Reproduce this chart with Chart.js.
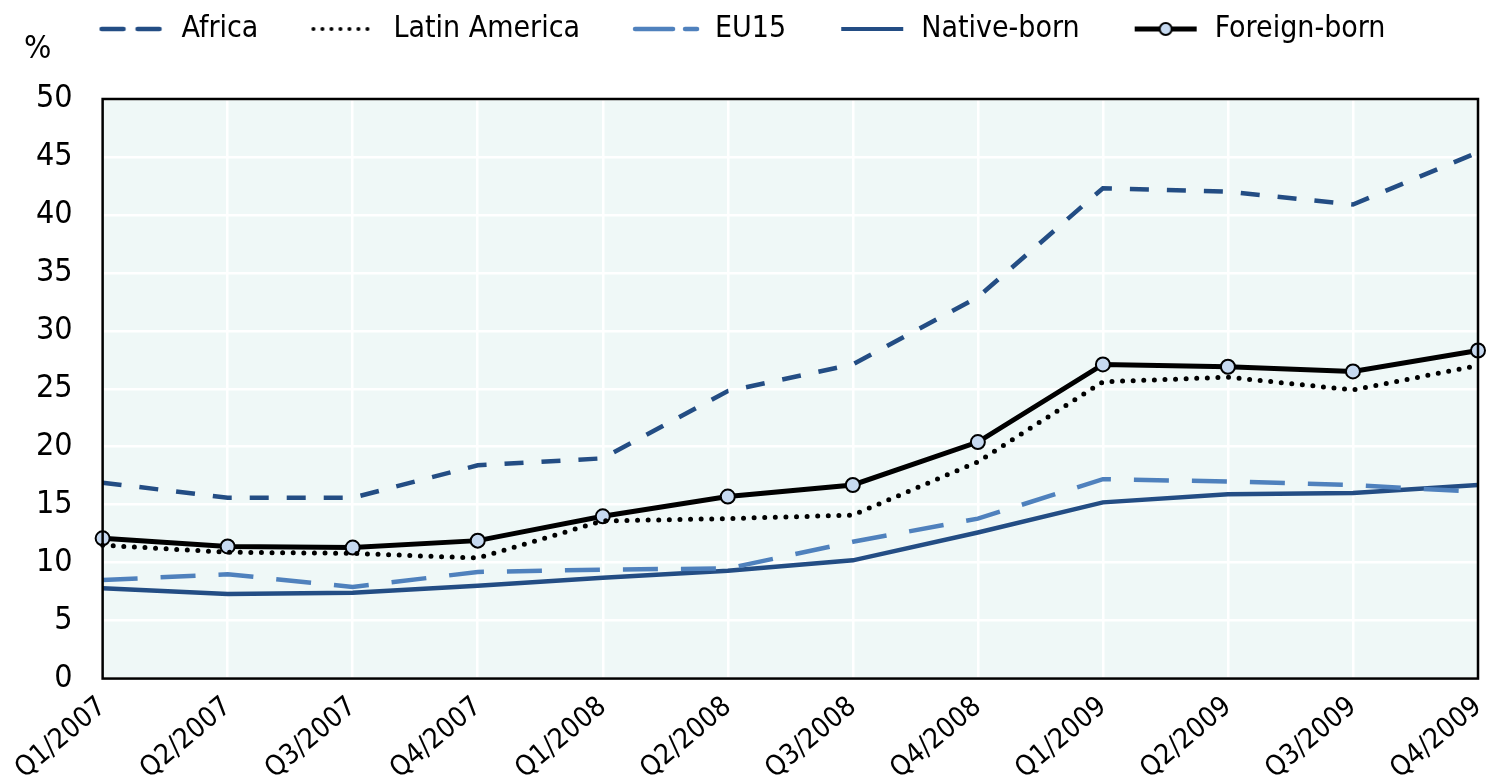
<!DOCTYPE html>
<html>
<head>
<meta charset="utf-8">
<script src="https://cdn.jsdelivr.net/npm/chart.js@4.4.1/dist/chart.umd.min.js"></script>
<style>
  html, body { margin: 0; padding: 0; background: #fff; }
  #wrap { position: relative; width: 1487px; height: 783px; }
  #unit { position: absolute; left: 24px; top: 28px; font: 32px "Liberation Sans Narrow", "DejaVu Sans Condensed", sans-serif; color: #000; }
</style>
</head>
<body>
<div id="wrap">
  <canvas id="chart" width="1487" height="783"></canvas>
  <div id="unit">%</div>
</div>
<script>
const FONT = '"Liberation Sans Narrow", "DejaVu Sans Condensed", sans-serif';

const quarters = ['Q1/2007', 'Q2/2007', 'Q3/2007', 'Q4/2007', 'Q1/2008', 'Q2/2008',
  'Q3/2008', 'Q4/2008', 'Q1/2009', 'Q2/2009', 'Q3/2009', 'Q4/2009'];
const africa = [16.9, 15.6, 15.6, 18.4, 19.0, 24.8, 27.1, 32.9, 42.3, 42.0, 40.9, 45.4];
const latinAmerica = [11.5, 10.9, 10.8, 10.4, 13.6, 13.8, 14.1, 18.7, 25.6, 26.0, 24.9, 27.0];
const eu15 = [8.5, 9.0, 7.9, 9.2, 9.4, 9.5, 11.8, 13.8, 17.2, 17.0, 16.7, 16.1];
const nativeBorn = [7.8, 7.3, 7.4, 8.0, 8.7, 9.3, 10.2, 12.6, 15.2, 15.9, 16.0, 16.7];
const foreignBorn = [12.1, 11.4, 11.3, 11.9, 14.0, 15.7, 16.7, 20.4, 27.1, 26.9, 26.5, 28.3];

// legend samples drawn on small canvases
function sample(draw) {
  const c = document.createElement('canvas');
  c.width = 68; c.height = 18;
  const g = c.getContext('2d');
  draw(g);
  return c;
}
function lineSample(color, width, dash, cap) {
  return sample(g => {
    g.strokeStyle = color; g.lineWidth = width; g.setLineDash(dash); g.lineCap = cap || 'butt';
    g.beginPath(); g.moveTo(3, 9); g.lineTo(65, 9); g.stroke();
  });
}
const legendIcons = [
  lineSample('#234d84', 4.5, [22, 14], 'round'),
  lineSample('#000', 4, [0, 9], 'round'),
  lineSample('#4f81bd', 4.5, [38, 12], 'round'),
  lineSample('#234d84', 4, []),
  sample(g => {
    g.strokeStyle = '#000'; g.lineWidth = 5;
    g.beginPath(); g.moveTo(3, 9); g.lineTo(65, 9); g.stroke();
    g.beginPath(); g.arc(34, 9, 6, 0, Math.PI * 2);
    g.fillStyle = '#c6d9f0'; g.fill(); g.lineWidth = 2; g.stroke();
  })
];

const plotFrame = {
  id: 'plotFrame',
  beforeInit(chart) {
    // extra room between legend and plot
    const fit = chart.legend.fit;
    chart.legend.fit = function () {
      fit.call(this);
      this.height += 45;
    };
  },
  beforeDraw(chart) {
    const { ctx, chartArea: a } = chart;
    ctx.save();
    ctx.fillStyle = '#eff8f7';
    ctx.fillRect(a.left, a.top, a.right - a.left, a.bottom - a.top);
    ctx.restore();
  },
  afterDatasetsDraw(chart) {
    const { ctx, chartArea: a } = chart;
    ctx.save();
    ctx.strokeStyle = '#000';
    ctx.lineWidth = 2.5;
    ctx.strokeRect(a.left, a.top, a.right - a.left, a.bottom - a.top);
    ctx.restore();
  }
};

const ctx = document.getElementById('chart').getContext('2d');
const chart = new Chart(ctx, {
  type: 'line',
  data: {
    labels: quarters,
    datasets: [
      {
        label: 'Africa',
        data: africa,
        borderColor: '#234d84',
        borderWidth: 4.5,
        borderDash: [19, 18],
        pointRadius: 0,
      },
      {
        label: 'Latin America',
        data: latinAmerica,
        borderColor: '#000',
        borderWidth: 5,
        borderDash: [0, 10.6],
        borderCapStyle: 'round',
        pointRadius: 0,
      },
      {
        label: 'EU15',
        data: eu15,
        borderColor: '#4f81bd',
        borderWidth: 4.5,
        borderDash: [35, 23],
        pointRadius: 0,
      },
      {
        label: 'Native-born',
        data: nativeBorn,
        borderColor: '#234d84',
        borderWidth: 4.5,
        pointRadius: 0,
      },
      {
        label: 'Foreign-born',
        data: foreignBorn,
        borderColor: '#000',
        borderWidth: 5,
        pointRadius: 7,
        pointBackgroundColor: '#c6d9f0',
        pointBorderColor: '#000',
        pointBorderWidth: 2,
      },
    ],
  },
  options: {
    responsive: false,
    animation: false,
    layout: { padding: { left: 6, right: 9, top: -38, bottom: -15 } },
    scales: {
      x: {
        offset: false,
        grid: { color: '#ffffff', lineWidth: 2.5, drawTicks: false },
        border: { display: false },
        afterFit(scale) {
          scale.paddingRight = 0;
        },
        ticks: {
          color: '#000',
          font: { family: FONT, size: 28 },
          maxRotation: 40,
          minRotation: 40,
          padding: 12,
          autoSkip: false,
        },
      },
      y: {
        min: 0,
        max: 50,
        grid: { color: '#ffffff', lineWidth: 2.5, drawTicks: false },
        border: { display: false },
        ticks: {
          stepSize: 5,
          color: '#000',
          font: { family: FONT, size: 32 },
          padding: 30,
        },
      },
    },
    plugins: {
      legend: {
        position: 'top',
        labels: {
          color: '#000',
          font: { family: FONT, size: 30 },
          usePointStyle: true,
          pointStyleWidth: 68,
          boxHeight: 18,
          padding: 52,
          generateLabels: (c) => c.data.datasets.map((ds, i) => ({
            text: ds.label,
            pointStyle: legendIcons[i],
            datasetIndex: i,
            fontColor: '#000',
            lineWidth: 0,
          })),
        },
      },
      tooltip: { enabled: false },
    },
  },
  plugins: [plotFrame],
});
</script>
</body>
</html>
